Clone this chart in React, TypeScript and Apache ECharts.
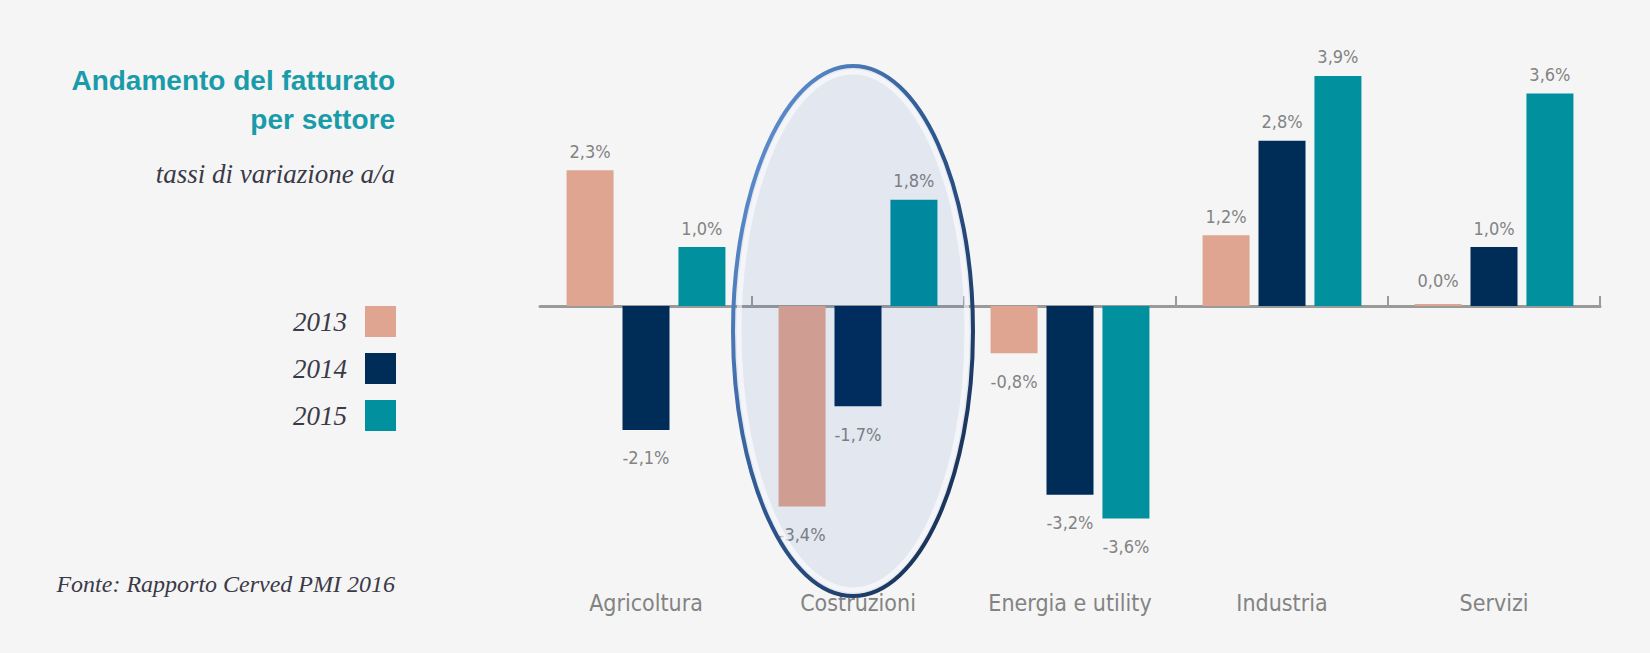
import React, { useEffect, useRef } from 'react';
import * as echarts from 'echarts';

const categories = ['Agricoltura', 'Costruzioni', 'Energia e utility', 'Industria', 'Servizi'];
const years = ['2013', '2014', '2015'];
const values2013 = [2.3, -3.4, -0.8, 1.2, 0.0];
const values2014 = [-2.1, -1.7, -3.2, 2.8, 1.0];
const values2015 = [1.0, 1.8, -3.6, 3.9, 3.6];
const seriesValues = [values2013, values2014, values2015];
const colors = ['#DFA591', '#002D58', '#00909E'];
const yMin = -4;
const yMax = 4;

const titleLines = ['Andamento del fatturato', 'per settore'];
const subtitle = 'tassi di variazione a/a';
const source = 'Fonte: Rapporto Cerved PMI 2016';

const NARROW = '"Liberation Sans Narrow", "DejaVu Sans Condensed", sans-serif';
const SERIF = '"Liberation Serif", "DejaVu Serif", serif';
const LABEL_GRAY = '#838383';
const TEAL = '#1A9BAA';

const fmt = (v: number) => v.toFixed(1).replace('.', ',') + '%';

export default function App() {
  const ref = useRef<HTMLDivElement>(null);
  useEffect(() => {
    document.body.style.margin = '0';
    document.body.style.background = '#F5F5F5';
    const chart = echarts.init(ref.current!, null, { renderer: 'svg' });
    const ringGradient = new echarts.graphic.LinearGradient(0, 0, 1, 1, [
      { offset: 0, color: '#6C9FE2' },
      { offset: 0.45, color: '#2F5A94' },
      { offset: 1, color: '#142847' },
    ]);
    const option: any = {
      animation: false,
      backgroundColor: '#F5F5F5',
      grid: { left: 540, right: 50, top: 70, bottom: 111, containLabel: false },
      legend: {
        data: years,
        orient: 'vertical',
        right: 1254,
        top: 306,
        padding: 0,
        itemWidth: 31,
        itemHeight: 31,
        itemGap: 16,
        icon: 'rect',
        align: 'right',
        selectedMode: false,
        textStyle: {
          fontFamily: SERIF,
          fontStyle: 'italic',
          fontSize: 27,
          color: '#3a3a48',
          padding: [0, 13, 0, 0],
        },
      },
      xAxis: [
        {
          type: 'category',
          data: categories,
          position: 'bottom',
          axisLine: { show: true, onZero: true, lineStyle: { color: '#9a9a9a', width: 3 } },
          axisTick: {
            show: true,
            inside: true,
            length: 10,
            interval: (i: number) => i !== 0,
            lineStyle: { color: '#9a9a9a', width: 2 },
          },
          axisLabel: { show: false },
          splitLine: { show: false },
        },
        {
          type: 'category',
          data: categories,
          position: 'bottom',
          axisLine: { show: false, onZero: false },
          axisTick: { show: false },
          axisLabel: {
            show: true,
            interval: 0,
            margin: 49,
            color: LABEL_GRAY,
            fontFamily: NARROW,
            fontSize: 23,
          },
          splitLine: { show: false },
        },
      ],
      yAxis: {
        type: 'value',
        min: yMin,
        max: yMax,
        axisLine: { show: false },
        axisTick: { show: false },
        axisLabel: { show: false },
        splitLine: { show: false },
      },
      series: years.map((y, si) => ({
        name: y,
        type: 'bar',
        xAxisIndex: 0,
        barWidth: 47,
        barGap: '19%',
        barMinHeight: 2,
        itemStyle: { color: colors[si] },
        label: {
          show: true,
          position: 'outside',
          color: LABEL_GRAY,
          fontFamily: NARROW,
          fontSize: 18,
          formatter: (p: any) => fmt(p.value),
        },
        data: seriesValues[si].map((v) => ({
          value: v,
          label: { distance: v < 0 ? 19 : v === 0 ? 15 : 10 },
        })),
      })),
      graphic: [
        {
          type: 'text',
          x: 395,
          y: 80,
          style: {
            text: titleLines[0],
            fill: TEAL,
            font: 'bold 28px "Liberation Sans", Arial, sans-serif',
            align: 'right',
            verticalAlign: 'middle',
          },
        },
        {
          type: 'text',
          x: 395,
          y: 119.5,
          style: {
            text: titleLines[1],
            fill: TEAL,
            font: 'bold 28px "Liberation Sans", Arial, sans-serif',
            align: 'right',
            verticalAlign: 'middle',
          },
        },
        {
          type: 'text',
          x: 395,
          y: 174,
          style: {
            text: subtitle,
            fill: '#3a3a48',
            font: 'italic 27px "Liberation Serif", serif',
            align: 'right',
            verticalAlign: 'middle',
          },
        },
        {
          type: 'text',
          x: 395,
          y: 584,
          style: {
            text: source,
            fill: '#3a3a48',
            font: 'italic 24px "Liberation Serif", serif',
            align: 'right',
            verticalAlign: 'middle',
          },
        },
        {
          type: 'ellipse',
          z: 100,
          shape: { cx: 853, cy: 331, rx: 120, ry: 265 },
          style: { fill: 'rgba(0,59,173,0.07)', stroke: 'none' },
        },
        {
          type: 'ellipse',
          z: 101,
          shape: { cx: 853, cy: 331, rx: 114, ry: 259 },
          style: { fill: 'none', stroke: 'rgba(255,255,255,0.6)', lineWidth: 5 },
        },
        {
          type: 'ellipse',
          z: 102,
          shape: { cx: 853, cy: 331, rx: 120, ry: 265 },
          style: { fill: 'none', stroke: ringGradient, lineWidth: 4 },
        },
      ],
    };
    chart.setOption(option);
    return () => chart.dispose();
  }, []);
  return (
    <div
      ref={ref}
      style={{ position: 'absolute', left: 0, top: 0, width: 1650, height: 653 }}
    />
  );
}
